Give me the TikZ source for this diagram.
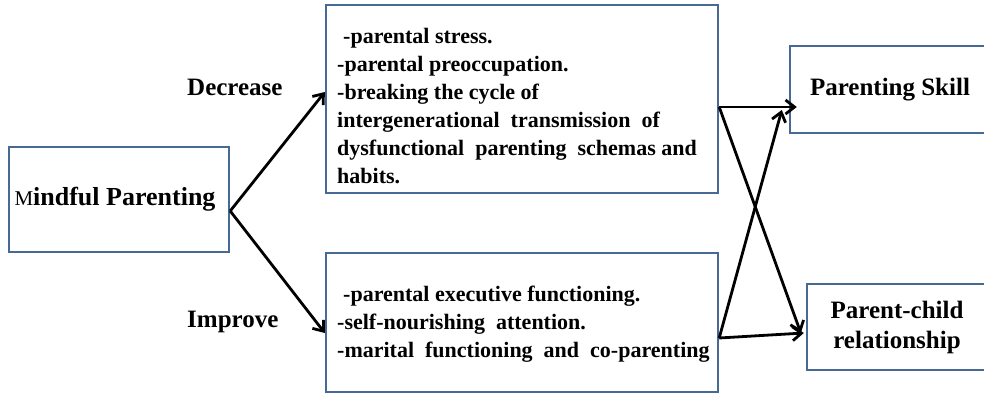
\documentclass[tikz,border=0pt]{standalone}
\usepackage{fontspec}
\setmainfont{Liberation Serif}
\usetikzlibrary{arrows.meta}
\definecolor{b1}{RGB}{70,105,150}

\begin{document}
\begin{tikzpicture}[
    x=1pt, y=1pt,
    every node/.style={
        font=\bfseries\fontsize{22}{28}\selectfont
    },
    box/.style={
        draw=b1, line width=2.4pt, fill=white, inner sep=0pt
    },
    txt/.style={
        align=left, inner sep=0pt, anchor=north west
    },
    lbl/.style={
        inner sep=0pt, anchor=base west,
        font=\bfseries\fontsize{25}{28}\selectfont
    },
    big/.style={
        align=center,
        font=\bfseries\fontsize{25}{30}\selectfont
    },
    arr/.style={
        line width=2.8pt,
        -{Straight Barb[length=9pt,width=14pt,line width=2.8pt]}
    }
]
    \clip (0,0) rectangle (984,394);
    \fill[white] (0,0) rectangle (984,394);

    \node[box, big, minimum width=220pt, minimum height=105pt,
        font=\bfseries\fontsize{26}{30}\selectfont] (mp) at (119,194.5)
        {\hspace{-8pt}{\mdseries\fontsize{21}{21}\selectfont M}indful Parenting};
    \node[box, minimum width=392pt, minimum height=188pt] (dec) at (522,295) {};
    \node[box, minimum width=392pt, minimum height=139pt] (imp) at (522,71.5) {};
    \node[box, big, minimum width=200pt, minimum height=87pt] (skill) at (890,304.5)
        {Parenting Skill};
    \node[box, big, minimum width=180pt, minimum height=86pt] (pcr) at (897,67)
        {Parent-child\\relationship};

    \node[txt] (dectxt) at (337,366) {\hspace{6pt}-parental stress.\\
        -parental preoccupation.\\
        -breaking the cycle of\\
        intergenerational \ transmission \ of\\
        dysfunctional \ parenting \ schemas and\\
        habits.};
    \node[txt] (imptxt) at (337,108) {\hspace{6pt}-parental executive functioning.\\
        -self-nourishing \ attention.\\
        -marital \ functioning \ and \ co-parenting};

    \node[lbl] (declbl) at (187,298) {Decrease};
    \node[lbl] (implbl) at (187,67) {Improve};

    % left fork
    \draw[arr] ([yshift=-11.5pt]mp.east) -- ([yshift=7pt]dec.west);
    \draw[arr] ([yshift=-11.5pt]mp.east) -- ([yshift=-10.5pt]imp.west);
    % right cross
    \draw[arr] ([yshift=-8pt]dec.east) -- ([xshift=8pt,yshift=-17.5pt]skill.west);
    \draw[arr] ([yshift=-8pt]dec.east) -- ([xshift=-5pt,yshift=-6pt]pcr.west);
    \draw[arr] ([yshift=-15.5pt]imp.east) -- ([xshift=-2pt,yshift=-6pt]pcr.west);
    \draw[arr] ([yshift=-15.5pt]imp.east) -- ([xshift=-7pt,yshift=-20.5pt]skill.west);
\end{tikzpicture}
\end{document}
